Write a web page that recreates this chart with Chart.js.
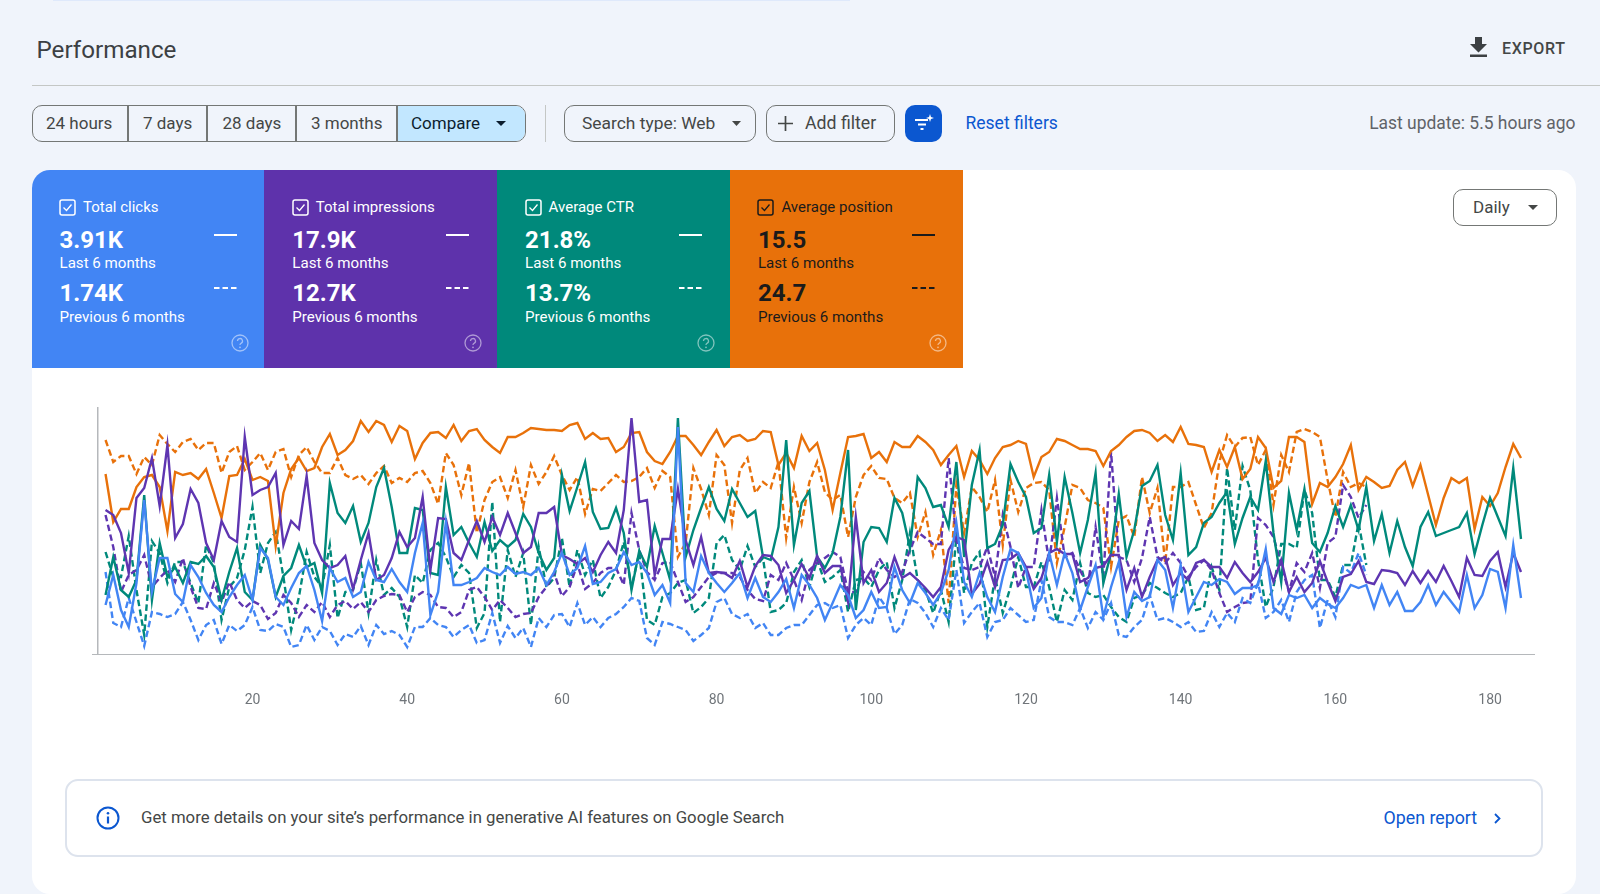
<!DOCTYPE html>
<html>
<head>
<meta charset="utf-8">
<title>Performance</title>
<script src="https://cdn.jsdelivr.net/npm/chart.js@4/dist/chart.umd.min.js"></script>
<style>
  html, body { margin: 0; padding: 0; background: #f0f4fb; width: 1600px; height: 894px; overflow: hidden; font-family: Roboto, sans-serif; }
  .t { position: absolute; white-space: nowrap; line-height: 24px; height: 24px; }
  .box { position: absolute; box-sizing: border-box; }
  .btn { border: 1.5px solid #747775; border-radius: 10px; }
  svg { position: absolute; overflow: visible; }
  .tile { position: absolute; top: 170px; height: 198px; width: 233px; }
  .tile .t { color: inherit; }
</style>
</head>
<body>
<div class="box" style="left:53px;top:0;width:797px;height:1px;background:#dfe9fb;"></div>
<div class="t" style="left:36.500px;top:38px;font-size:24.200px;color:#3c4043;">Performance</div>
<svg style="left:1470px;top:37px" width="17" height="20" viewBox="0 0 17 20"><path d="M5 0h7v7h5l-8.500 8.500L0 7h5z M0 17.600h17V20H0z" fill="#3c4043"/></svg>
<div class="t" style="left:1502px;top:36.500px;font-size:16px;letter-spacing:.65px;font-weight:500;color:#444746;">EXPORT</div>
<div class="box" style="left:31.500px;top:85px;width:1569px;height:1px;background:#c4c7c5;"></div>

<div class="box btn" style="left:32px;top:105px;width:494px;height:37px;overflow:hidden;background:#f0f4fb;">
  <div class="box" style="left:363px;top:0;width:130px;height:35px;background:#c2e7ff;"></div>
  <div class="box" style="left:94px;top:0;width:1.500px;height:35px;background:#747775;"></div>
  <div class="box" style="left:173px;top:0;width:1.500px;height:35px;background:#747775;"></div>
  <div class="box" style="left:262px;top:0;width:1.500px;height:35px;background:#747775;"></div>
  <div class="box" style="left:363px;top:0;width:1.500px;height:35px;background:#747775;"></div>
</div>
<div class="t" style="left:46px;top:111px;font-size:17px;color:#444746;">24 hours</div>
<div class="t" style="left:143px;top:111px;font-size:17px;color:#444746;">7 days</div>
<div class="t" style="left:222.500px;top:111px;font-size:17px;color:#444746;">28 days</div>
<div class="t" style="left:311px;top:111px;font-size:17px;color:#444746;">3 months</div>
<div class="t" style="left:411px;top:111px;font-size:17px;color:#0b1d2e;">Compare</div>
<svg style="left:496px;top:121px" width="10" height="5"><path d="M0 0h10L5 5z" fill="#0b1d2e"/></svg>

<div class="box" style="left:545px;top:105px;width:1px;height:37px;background:#c4c7c5;"></div>
<div class="box btn" style="left:564px;top:105px;width:192px;height:37px;"></div>
<div class="t" style="left:582px;top:111px;font-size:17.400px;color:#444746;">Search type: Web</div>
<svg style="left:732px;top:121px" width="9" height="5"><path d="M0 0h9L4.500 5z" fill="#444746"/></svg>
<div class="box btn" style="left:766px;top:105px;width:129px;height:37px;"></div>
<svg style="left:778px;top:116px" width="15" height="15"><path d="M7.500 0v15M0 7.500h15" stroke="#444746" stroke-width="1.700"/></svg>
<div class="t" style="left:805px;top:111px;font-size:17.700px;color:#444746;">Add filter</div>
<div class="box" style="left:905px;top:105px;width:37px;height:37px;border-radius:10px;background:#0b57d0;"></div>
<svg style="left:915px;top:114px" width="19" height="17"><path d="M0 6h13M3 10.500h8M5.500 15h3" stroke="#fff" stroke-width="1.800"/><path d="M15 0l1 3 3 1-3 1-1 3-1-3-3-1 3-1z" fill="#fff"/></svg>
<div class="t" style="left:965.500px;top:111px;font-size:17.500px;color:#0b57d0;">Reset filters</div>
<div class="t" style="right:24.500px;top:111px;font-size:17.450px;color:#5f6368;">Last update: 5.5 hours ago</div>

<div class="box" style="left:31.500px;top:170px;width:1544.500px;height:724px;background:#fff;border-radius:18px;"></div>
<div id="tiles"></div>
<div class="box btn" style="left:1453px;top:189px;width:104px;height:36.500px;background:#fff;"></div>
<div class="t" style="left:1473px;top:195px;font-size:17px;color:#444746;">Daily</div>
<svg style="left:1528px;top:205px" width="10" height="5"><path d="M0 0h10L5 5z" fill="#444746"/></svg>

<canvas id="chart" width="1443" height="310" style="position:absolute;left:92px;top:407px;"></canvas>

<div class="box" style="left:64.500px;top:779px;width:1478px;height:78px;border:2px solid #dde3ed;border-radius:13px;"></div>
<svg style="left:96px;top:806px" width="24" height="24"><circle cx="12" cy="12" r="10.500" fill="none" stroke="#0b57d0" stroke-width="2"/><path d="M12 10.500v7" stroke="#0b57d0" stroke-width="2.200"/><circle cx="12" cy="7.300" r="1.300" fill="#0b57d0"/></svg>
<div class="t" style="left:141px;top:805px;font-size:16.750px;color:#444746;">Get more details on your site’s performance in generative AI features on Google Search</div>
<div class="t" style="left:1383.500px;top:806px;font-size:17.800px;color:#0b57d0;">Open report</div>
<svg style="left:1494px;top:813px" width="7" height="11"><path d="M1 1l4.500 4.500L1 10" fill="none" stroke="#0b57d0" stroke-width="1.800"/></svg>

<script>
const tickLabels = [20, 40, 60, 80, 100, 120, 140, 160, 180];

const clicksNow = [49,79,44,27,71,154,62,96,96,60,52,89,77,61,49,42,57,69,79,54,106,96,57,49,66,81,88,64,33,86,72,76,57,62,92,74,72,85,72,62,101,131,39,62,132,69,69,72,76,
  86,82,79,87,80,82,79,86,69,82,101,79,86,108,70,72,81,85,102,89,92,81,59,69,51,227,71,62,98,81,71,62,71,81,56,76,57,52,62,75,46,79,69,56,34,51,69,59,36,44,62,46,
  47,87,64,51,71,61,49,61,84,131,72,57,81,57,42,77,105,101,84,46,56,101,69,101,81,44,67,89,37,67,92,37,62,53,57,94,84,46,89,42,57,72,69,75,
  72,60,66,66,69,105,46,40,59,56,59,46,56,50,46,56,69,66,69,46,69,49,62,43,43,52,69,49,62,52,42,79,46,59,85,82,46,109,56];
const clicksPrev = [82,31,27,56,32,8,42,40,37,40,52,34,14,29,34,10,29,23,29,47,24,23,30,27,7,9,29,14,27,23,9,20,17,28,9,29,20,23,19,7,27,27,36,29,27,17,24,29,11,
  14,41,11,28,16,26,7,36,27,39,40,27,51,29,37,27,36,40,47,56,53,16,9,32,30,27,24,13,19,26,52,56,40,36,40,26,31,19,19,26,29,29,39,49,51,46,49,16,29,36,29,57,
  46,20,29,55,51,41,27,46,34,84,31,42,51,17,32,34,46,39,32,34,74,37,32,32,29,46,26,42,34,51,19,17,27,34,59,34,36,32,27,32,22,23,42,27,
  41,32,56,51,71,36,42,54,32,62,74,79,26,54,37,87,81,101,79];
const imprNow = [144,139,121,81,156,166,196,148,209,116,130,165,151,111,94,133,117,112,217,159,164,167,181,109,133,125,178,111,94,86,89,98,65,94,121,74,79,96,122,107,116,157,84,136,135,101,94,114,133,
  112,137,119,141,121,101,107,141,141,147,99,95,90,96,82,99,112,101,144,236,152,154,79,115,115,165,114,89,117,81,82,81,76,93,67,88,99,98,89,61,74,90,76,98,81,88,88,52,137,71,84,62,
  71,97,76,81,74,66,57,67,104,117,114,60,70,92,67,94,95,101,87,65,76,101,105,100,100,72,76,86,88,99,99,64,86,57,77,94,97,69,81,74,91,94,87,87,
  76,92,81,72,82,96,72,94,62,77,62,71,93,72,53,77,80,93,72,70,84,83,81,69,83,71,83,72,88,73,57,96,79,78,93,102,67,101,82];
const imprPrev = [139,107,62,79,84,99,67,76,84,72,96,67,46,45,71,52,72,54,46,53,49,35,41,59,51,37,49,42,52,37,49,53,45,52,42,54,58,60,59,42,57,62,59,47,46,37,42,64,67,
  57,44,54,46,37,40,41,57,67,81,58,67,90,65,71,81,86,86,69,141,104,82,74,91,92,72,52,57,67,77,81,81,81,77,64,55,53,79,74,91,74,54,84,91,96,102,97,62,62,82,74,96,
  84,77,82,104,122,116,110,110,196,114,86,84,87,107,77,139,107,66,87,87,144,91,156,97,101,84,67,127,77,202,97,94,72,96,137,97,91,101,91,77,87,94,84,61,
  42,47,51,52,136,129,117,89,62,91,82,101,66,111,117,169,157,136,149];
const ctrNow = [59,97,64,57,74,159,54,111,77,87,71,92,90,98,87,54,82,106,62,54,109,94,57,78,86,109,87,91,61,171,141,131,148,112,131,167,186,147,101,101,146,144,81,79,167,119,127,111,97,
  132,103,114,107,114,140,127,101,84,96,179,143,167,192,142,125,126,146,121,64,103,87,128,101,74,236,97,124,146,167,145,133,165,151,137,143,97,94,127,214,109,151,163,97,86,101,137,204,44,112,127,126,
  112,156,141,106,177,166,147,149,127,192,97,169,204,106,110,129,190,172,157,121,126,179,112,177,141,101,134,181,71,101,160,97,124,168,173,189,139,114,181,99,107,131,137,151,
  162,110,136,157,144,193,121,72,161,124,165,111,102,121,148,127,149,124,167,113,140,101,133,107,88,127,142,118,121,124,127,141,100,129,156,137,118,186,115];
const ctrPrev = [102,77,77,118,64,19,113,101,71,92,92,71,51,109,91,34,67,76,104,147,81,111,122,77,24,57,102,77,67,109,36,62,64,91,41,94,59,66,57,27,79,71,104,111,97,77,89,81,26,
  41,152,32,104,77,101,29,107,67,76,116,67,104,79,94,56,67,84,112,67,101,34,29,57,61,71,74,41,47,56,111,119,94,84,108,87,96,42,44,51,82,94,67,94,72,77,84,42,74,76,67,84,
  92,46,74,121,74,64,41,64,32,117,61,91,102,27,77,41,67,97,67,67,92,67,32,64,54,91,61,57,59,47,37,32,56,59,71,66,61,57,61,77,44,46,87,64,
  186,124,188,164,94,47,67,110,110,106,164,141,74,74,57,89,89,131,89];
const posNow = [180,132,145,145,167,177,179,167,123,182,179,181,175,185,161,136,178,179,195,174,177,173,108,161,185,196,183,186,207,220,199,204,213,233,222,233,229,212,228,223,195,211,221,222,216,229,213,223,225,
  214,207,201,217,217,221,226,225,224,224,223,229,231,215,221,215,216,202,207,221,222,202,193,190,202,218,218,209,199,212,224,208,217,219,213,215,223,222,189,201,186,218,203,211,184,144,181,217,218,220,196,202,
  192,212,207,207,218,212,204,189,199,208,177,203,194,180,196,207,209,213,210,177,197,202,215,213,209,205,205,203,188,203,209,217,223,224,221,213,219,212,227,210,209,207,182,204,
  187,207,175,185,217,206,166,173,217,217,212,150,171,167,177,190,209,164,177,172,166,168,184,192,168,189,159,129,156,176,171,176,125,157,148,161,187,210,196];
const posPrev = [214,192,198,198,180,197,189,219,210,202,212,215,204,211,211,181,202,208,184,192,201,184,202,205,177,199,207,192,181,181,196,179,175,179,170,181,188,171,176,172,181,183,171,150,201,189,159,191,121,
  154,172,177,156,184,147,189,170,182,198,179,164,177,140,165,163,171,179,172,173,177,186,166,183,177,97,111,186,165,139,199,189,131,184,196,161,172,166,192,116,167,131,172,192,162,154,159,117,157,179,188,176,
  175,156,151,161,117,142,99,124,51,169,121,167,157,142,174,109,174,142,166,171,172,164,91,127,169,166,154,151,146,87,134,138,117,177,141,166,91,167,167,172,149,126,141,192,
  219,207,216,217,189,204,149,199,182,222,225,222,217,174,137,182,167,171,167];

const BLUE = '#4285f4', PURPLE = '#5e35b1', TEAL = '#00897b', ORANGE = '#e8710a';

// tile text
const tileNames = ['Total clicks', 'Total impressions', 'Average CTR', 'Average position'];
const tileNow = ['3.91K', '17.9K', '21.8%', '15.5'];
const tilePrev = ['1.74K', '12.7K', '13.7%', '24.7'];
const tileColors = [BLUE, '#5e32ab', '#00897b', '#e8710a'];
const tileInk = ['#fff', '#fff', '#fff', '#1b1b1b'];

let html = '';
tileNames.forEach((name, i) => {
  const x = 31.5 + i * 232.8, ink = tileInk[i];
  const radius = i === 0 ? 'border-top-left-radius:18px;' : '';
  html += `<div class="tile" style="left:${x}px;background:${tileColors[i]};color:${ink};${radius}">
    <svg style="left:27.500px;top:29px" width="17" height="17"><rect x="1" y="1" width="15" height="15" rx="2" fill="none" stroke="${ink}" stroke-width="1.500"/><path d="M4.500 8.500l3 3 5-6" fill="none" stroke="${ink}" stroke-width="1.300"/></svg>
    <div class="t" style="left:51.500px;top:25px;font-size:15px;">${name}</div>
    <div class="t" style="left:28px;top:58px;font-size:24px;font-weight:700;">${tileNow[i]}</div>
    <div class="t" style="left:28px;top:81px;font-size:15.100px;">Last 6 months</div>
    <div class="t" style="left:28px;top:111px;font-size:24px;font-weight:700;">${tilePrev[i]}</div>
    <div class="t" style="left:28px;top:135px;font-size:15.100px;">Previous 6 months</div>
    <div class="box" style="left:182px;top:64px;width:23px;height:2px;background:${ink};"></div>
    <svg style="left:182px;top:117px" width="23" height="2"><path d="M0 1h23" stroke="${ink}" stroke-width="2" stroke-dasharray="5.500 3"/></svg>
    <svg style="left:199.500px;top:164px" width="18" height="18" opacity="0.5"><circle cx="9" cy="9" r="8" fill="none" stroke="#fff" stroke-width="1.300"/><path d="M6.500 7a2.500 2.500 0 1 1 3.500 2.300c-.7.400-1 .8-1 1.700" fill="none" stroke="#fff" stroke-width="1.300"/><circle cx="9" cy="13.300" r=".9" fill="#fff"/></svg>
  </div>`;
});
document.getElementById('tiles').innerHTML = html;

function toPoints(values) {
  return values.map((v, i) => ({ x: i + 1, y: v }));
}

function lineSet(label, values, color, dashed) {
  return {
    label: label,
    data: toPoints(values),
    borderColor: color,
    borderWidth: 2.4,
    borderDash: dashed ? [6.5, 3.5] : [],
    pointRadius: 0,
    tension: 0,
    fill: false
  };
}

new Chart(document.getElementById('chart'), {
  type: 'line',
  data: {
    datasets: [
      lineSet('Total clicks', clicksNow, BLUE, false),
      lineSet('Total impressions', imprNow, PURPLE, false),
      lineSet('Average CTR', ctrNow, TEAL, false),
      lineSet('Average position', posNow, ORANGE, false),
      lineSet('Total clicks, previous', clicksPrev, BLUE, true),
      lineSet('Total impressions, previous', imprPrev, PURPLE, true),
      lineSet('Average CTR, previous', ctrPrev, TEAL, true),
      lineSet('Average position, previous', posPrev, ORANGE, true)
    ]
  },
  options: {
    responsive: false,
    animation: false,
    events: [],
    layout: { padding: 0 },
    plugins: { legend: { display: false }, tooltip: { enabled: false } },
    scales: {
      x: {
        type: 'linear',
        min: -0.75,
        max: 185.81,
        grid: { display: false },
        border: { color: '#b5b8bb', width: 1 },
        afterBuildTicks: scale => { scale.ticks = tickLabels.map(v => ({ value: v })); },
        afterFit: scale => { scale.height = 63; },
        ticks: { autoSkip: false, maxRotation: 0, padding: 30, color: '#70757a', font: { family: 'Roboto', size: 14 } }
      },
      y: {
        type: 'linear',
        min: 0,
        max: 247,
        position: { x: 0 },
        grid: { display: false },
        border: { color: '#b5b8bb', width: 1.5 },
        ticks: { display: false }
      }
    }
  }
});
</script>
</body>
</html>
